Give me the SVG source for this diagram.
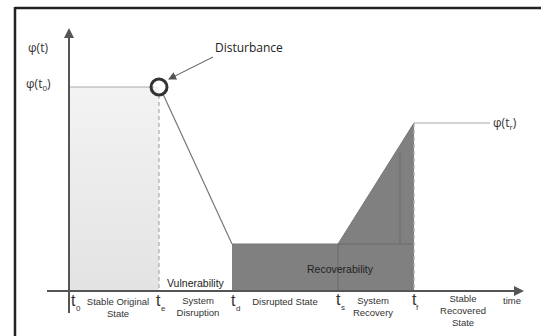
<svg xmlns="http://www.w3.org/2000/svg" width="541" height="336" viewBox="0 0 541 336">
  <style>
    .lbl { font-family: "Liberation Sans", Arial, sans-serif; font-size: 9.5px; fill: #333; text-anchor: middle; }
    .tk { font-family: "Liberation Sans", Arial, sans-serif; font-size: 16px; fill: #333; }
    .sub { font-family: "Liberation Sans", Arial, sans-serif; font-size: 8px; fill: #333; }
    .phi { font-family: "Open Sans", "Liberation Sans", sans-serif; font-size: 12px; fill: #333; }
    .ann { font-family: "Open Sans", "Liberation Sans", sans-serif; font-size: 12px; fill: #222; }
    .region { font-family: "Liberation Sans", Arial, sans-serif; font-size: 10.5px; fill: #222; }
    .axis { stroke: #555; stroke-width: 2; fill: none; }
    .guide { stroke: #aaa; stroke-width: 1.2; fill: none; }
    .dash { stroke: #aaa; stroke-width: 1.2; stroke-dasharray: 4 3; fill: none; }
  </style>
  <defs>
    <linearGradient id="stableFill" x1="0" y1="0" x2="0" y2="1">
      <stop offset="0" stop-color="#f3f3f3"/>
      <stop offset="1" stop-color="#e3e3e3"/>
    </linearGradient>
    <marker id="axisHead" markerWidth="10" markerHeight="10" refX="8" refY="5" orient="auto" markerUnits="userSpaceOnUse">
      <path d="M0,0 L10,5 L0,10 Z" fill="#555"/>
    </marker>
    <marker id="thinHead" markerWidth="8" markerHeight="8" refX="7" refY="4" orient="auto" markerUnits="userSpaceOnUse">
      <path d="M0,0 L8,4 L0,8 Z" fill="#555"/>
    </marker>
  </defs>

  <rect width="541" height="336" fill="#fff"/>

  <!-- outer frame (left and top edges) -->
  <g id="frame">
    <line x1="15" y1="8" x2="541" y2="8" stroke="#222" stroke-width="2.5"/>
    <line x1="15" y1="7" x2="15" y2="336" stroke="#222" stroke-width="2.5"/>
  </g>

  <!-- shaded regions -->
  <g id="stable-region">
    <rect x="69" y="87" width="90" height="204" fill="url(#stableFill)"/>
  </g>
  <g id="disrupted-region">
    <rect x="232" y="244" width="182" height="47" fill="#808080"/>
    <polygon points="338,244 414,123 414,244" fill="#808080"/>
    <line x1="338" y1="244" x2="338" y2="291" stroke="#6a6a6a" stroke-width="1"/>
    <line x1="338" y1="244" x2="414" y2="244" stroke="#6a6a6a" stroke-width="1"/>
    <line x1="400" y1="152" x2="400" y2="244" stroke="#6a6a6a" stroke-width="1"/>
  </g>

  <!-- performance curve and guides -->
  <g id="connectors">
    <line class="guide" x1="69" y1="87" x2="154" y2="87"/>
    <line class="dash" x1="159" y1="95" x2="159" y2="291"/>
    <line x1="163" y1="94" x2="232" y2="244" stroke="#777" stroke-width="1.2"/>
    <line x1="232" y1="244" x2="338" y2="244" stroke="#777" stroke-width="1"/>
    <line x1="338" y1="244" x2="414" y2="123" stroke="#777" stroke-width="1"/>
    <line class="dash" x1="414" y1="123" x2="414" y2="291"/>
    <line class="guide" x1="414" y1="123" x2="490" y2="123"/>
    <line x1="213" y1="57" x2="169" y2="79" stroke="#555" stroke-width="1" marker-end="url(#thinHead)"/>
  </g>

  <!-- axes -->
  <g id="axes">
    <line class="axis" x1="69" y1="313" x2="69" y2="30" marker-end="url(#axisHead)"/>
    <line class="axis" x1="47" y1="291" x2="522" y2="291" marker-end="url(#axisHead)"/>
  </g>

  <!-- disturbance marker -->
  <g id="disturbance">
    <circle cx="159" cy="87" r="8" fill="none" stroke="#333" stroke-width="3"/>
    <text class="ann" x="215" y="52">Disturbance</text>
  </g>

  <!-- axis labels -->
  <g id="y-labels">
    <text class="phi" x="28" y="52">φ(t)</text>
    <text class="phi" x="26" y="88">φ(t<tspan font-size="8" dy="3">0</tspan><tspan dy="-3">)</tspan></text>
    <text class="phi" x="493" y="127">φ(t<tspan font-size="8" dy="3">r</tspan><tspan dy="-3">)</tspan></text>
  </g>

  <g id="region-labels">
    <text class="region" x="167" y="287" font-size="10">Vulnerability</text>
    <text class="region" x="340" y="273" text-anchor="middle">Recoverability</text>
  </g>

  <!-- time ticks -->
  <g id="ticks">
    <text class="tk" x="71" y="306">t</text><text class="sub" x="76" y="311">0</text>
    <text class="tk" x="156" y="306">t</text><text class="sub" x="161" y="311">e</text>
    <text class="tk" x="231" y="306">t</text><text class="sub" x="236" y="311">d</text>
    <text class="tk" x="336" y="305">t</text><text class="sub" x="341" y="310">s</text>
    <text class="tk" x="412" y="305">t</text><text class="sub" x="416" y="310">f</text>
  </g>

  <!-- phase labels -->
  <g id="phase-labels">
    <text class="lbl" x="118" y="305">Stable Original</text>
    <text class="lbl" x="118" y="317">State</text>
    <text class="lbl" x="198" y="304">System</text>
    <text class="lbl" x="198" y="316">Disruption</text>
    <text class="lbl" x="285" y="305">Disrupted State</text>
    <text class="lbl" x="373" y="304">System</text>
    <text class="lbl" x="373" y="316">Recovery</text>
    <text class="lbl" x="463" y="302">Stable</text>
    <text class="lbl" x="463" y="314">Recovered</text>
    <text class="lbl" x="463" y="326">State</text>
    <text class="lbl" x="512" y="304">time</text>
  </g>
</svg>
